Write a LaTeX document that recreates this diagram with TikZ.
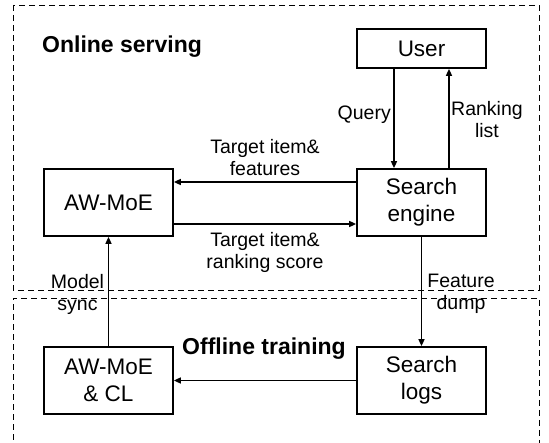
\documentclass[tikz,border=0pt]{standalone}
\usepackage{fontspec}
\setmainfont{Liberation Sans}
\usetikzlibrary{arrows.meta}
\begin{document}
\begin{tikzpicture}[x=1pt,y=-1pt,
  box/.style={draw,line width=1.7pt,inner sep=0pt,font=\fontsize{22.5}{27}\selectfont,align=center},
  lbl/.style={font=\fontsize{19.5}{22}\selectfont,align=center,inner sep=0pt},
  ttl/.style={font=\fontsize{23}{26}\selectfont\bfseries,inner sep=0pt},
  arr/.style={line width=1.5pt,-{Triangle[length=7pt,width=6pt]}},
  frame/.style={line width=0.9pt,dash pattern=on 6pt off 4pt}]
\useasboundingbox (0,0) rectangle (549,443);
% frames
\draw[frame] (13,5) rectangle (539,290);
\draw[frame] (13,450) -- (13,298) -- (539,298) -- (539,450);
% boxes
\node[box,minimum width=129pt,minimum height=39pt] (user) at (421.5,48.5) {User};
\node[box,minimum width=129pt,minimum height=67pt] (se) at (421.5,202.5) {Search\\engine};
\node[box,minimum width=129pt,minimum height=67pt] (aw) at (108.5,202.5) {AW-MoE};
\node[box,minimum width=129pt,minimum height=67pt] (logs) at (421.5,380.5) {Search\\logs};
\node[box,minimum width=129pt,minimum height=67pt] (cl) at (108.5,380.5) {AW-MoE\\\& CL};
% titles
\node[ttl,anchor=west] (on) at (42,47) {Online serving};
\node[ttl] (off) at (264,349) {Offline training};
% arrows
\draw[arr] (user.south -| 394,0) -- (se.north -| 394,0);
\draw[arr] (se.north -| 449,0) -- (user.south -| 449,0);
\draw[arr] (se.west |- 0,182) -- (aw.east |- 0,182);
\draw[arr] (aw.east |- 0,224) -- (se.west |- 0,224);
\draw[arr] (se.south) -- (logs.north);
\draw[arr] (cl.north) -- (aw.south);
\draw[arr] (logs.west) -- (cl.east);
% labels
\node[lbl,anchor=east] (q) at (391,115) {Query};
\node[lbl] (rl) at (487,120) {Ranking\\list};
\node[lbl] (tf) at (265,158) {Target item\&\\features};
\node[lbl] (ts) at (265,252) {Target item\&\\ranking score};
\node[lbl] (ms) at (77.5,294) {Model\\sync};
\node[lbl] (fd) at (461,294) {Feature\\dump};
\end{tikzpicture}
\end{document}
